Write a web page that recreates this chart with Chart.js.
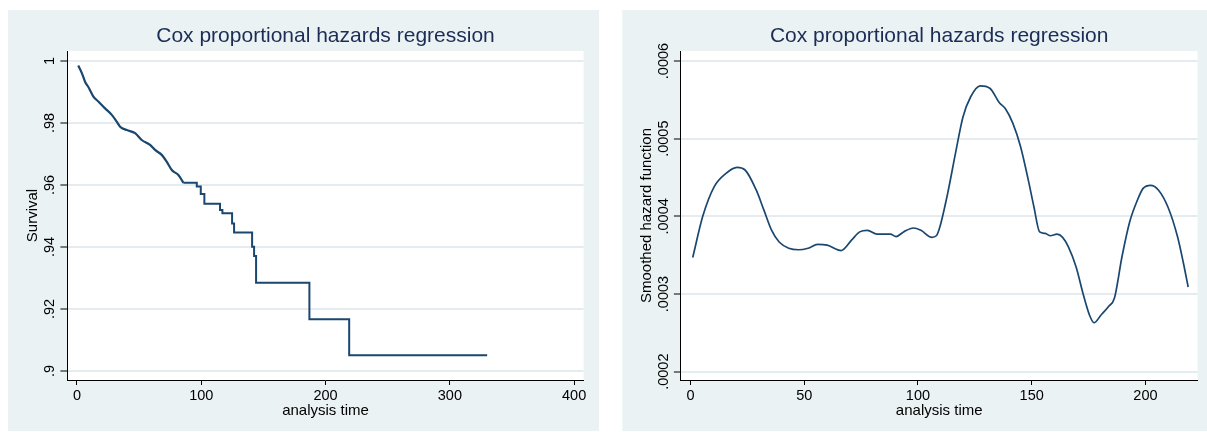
<!DOCTYPE html>
<html>
<head>
<meta charset="utf-8">
<title>Cox proportional hazards regression</title>
<script src="https://cdn.jsdelivr.net/npm/chart.js@4"></script>
<style>
  body { margin: 0; background: #fff; }
  #wrap { position: relative; width: 1207px; height: 432px; }
  canvas { position: absolute; top: 0; }
</style>
</head>
<body>
<div id="wrap">
  <canvas id="survChart" width="603" height="432" style="left:0"></canvas>
  <canvas id="hazChart" width="604" height="432" style="left:603px"></canvas>
</div>
<script>
// Left panel: survival curve
// early part has many tiny steps, drawn as a plain line; after that the steps are drawn
const survTime = [1, 4, 6.5, 9.7, 13.2, 17.2, 22.6, 28, 32, 34.7, 40.1, 46.8, 52.1, 58.8, 62.8,
  68.2, 72.2, 76.3, 81.6, 85.6, 96.4, 99.6, 102.5, 115.1, 117, 124.8, 126.4, 140.9, 142.5,
  144.1, 187, 219, 330];
const survival = [.9985, .9960, .9933, .9912, .9885, .9869, .9847, .9826, .9804, .9788, .9777,
  .9767, .9745, .9729, .9713, .9697, .9675, .9648, .9632, .9607, .9595, .9571, .9539, .9519,
  .9509, .9476, .9447, .9401, .9371, .9285, .9167, .9051, .9051];
const survDenseEnd = 19; // index of t = 85.6
const survXTicks = [0, 100, 200, 300, 400];
const survYTicks = [0.9, 0.92, 0.94, 0.96, 0.98, 1];
const survYLabels = [".9", ".92", ".94", ".96", ".98", "1"];

// Right panel: smoothed hazard function
const hazTime = [1, 5.4, 10.4, 15.5, 20.5, 23.9, 28.9, 32.3, 35.7, 39, 43.2, 47.5, 51.7, 55.9,
  60.1, 66.3, 71, 74.4, 77.8, 82, 87.9, 90.4, 93.7, 98, 101.3, 106.1, 108.1, 109.7, 113.1,
  116.5, 119.8, 123.2, 127.4, 131.6, 135.9, 138.4, 141.7, 145.1, 148.5, 151, 153.5, 156,
  158.2, 161.1, 163.6, 166.1, 169.5, 172.9, 175.4, 177.4, 180.5, 183.8, 186.4, 189.7, 193.1,
  196.5, 199, 202.3, 205.7, 209.9, 214.1, 216.7, 218.8];
const hazard = [.000347, .000400, .000438, .000455, .000463, .000460, .000434, .000408, .000382,
  .000367, .000359, .000357, .000359, .000364, .000363, .000356, .000370, .000380, .000382,
  .000377, .000377, .000374, .000380, .000385, .000382, .000373, .000375, .000387, .000430,
  .000481, .000528, .000554, .000568, .000565, .000546, .000539, .000520, .000490, .000447,
  .000412, .000380, .000378, .000375, .000377, .000373, .000361, .000335, .000297, .000273,
  .000263, .000273, .000284, .000295, .000348, .000393, .000421, .000436, .000440, .000434,
  .000412, .000374, .000340, .000309];
const hazXTicks = [0, 50, 100, 150, 200];
const hazYTicks = [0.0002, 0.0003, 0.0004, 0.0005, 0.0006];
const hazYLabels = [".0002", ".0003", ".0004", ".0005", ".0006"];

const NAVY = "#1a476f";
const PANEL = "#eaf2f3";
const GRID = "#e4ecef";
const TICK_FONT = 14.5;
Chart.defaults.font.family = '"Liberation Sans", Arial, Helvetica, sans-serif';
Chart.defaults.color = "#000";

// panel background + white plot region
const panelBg = {
  id: "panelBg",
  beforeDraw(chart, args, opts) {
    const ctx = chart.ctx, a = chart.chartArea;
    ctx.save();
    ctx.fillStyle = PANEL;
    ctx.fillRect(opts.left, 10, opts.right - opts.left, 421);
    ctx.fillStyle = "#fff";
    ctx.fillRect(a.left, a.top, a.right - a.left, a.bottom - a.top);
    ctx.restore();
  }
};

// Stata style vertical y tick labels
const rotatedYTicks = {
  id: "rotatedYTicks",
  afterDraw(chart, args, opts) {
    const y = chart.scales.y, ctx = chart.ctx;
    ctx.save();
    ctx.font = TICK_FONT + 'px "Liberation Sans", Arial, sans-serif';
    ctx.fillStyle = "#000";
    ctx.textAlign = "center";
    ctx.textBaseline = "middle";
    opts.values.forEach((v, i) => {
      ctx.save();
      ctx.translate(y.right - opts.gap, y.getPixelForValue(v));
      ctx.rotate(-Math.PI / 2);
      ctx.fillText(opts.labels[i], 0, 0);
      ctx.restore();
    });
    ctx.restore();
  }
};

function series(xs, ys, lw, stepped) {
  return {
    data: xs.map((x, i) => ({ x: x, y: ys[i] })),
    borderColor: NAVY,
    borderWidth: lw,
    pointRadius: 0,
    fill: false,
    stepped: stepped || false,
    cubicInterpolationMode: stepped ? "default" : "monotone"
  };
}

function makeChart(id, p) {
  return new Chart(document.getElementById(id), {
    type: "line",
    data: { datasets: p.datasets },
    options: {
      responsive: false,
      animation: false,
      devicePixelRatio: 1,
      events: [],
      layout: { padding: { left: 0, top: 0, right: p.padRight, bottom: 0 } },
      plugins: {
        legend: { display: false },
        tooltip: { enabled: false },
        title: {
          display: true,
          text: "Cox proportional hazards regression",
          color: "#1c2c54",
          fullSize: false,
          font: { size: 21, weight: "normal" },
          padding: { top: 24, bottom: 1.8 }
        },
        panelBg: { left: p.panelLeft, right: p.panelRight },
        rotatedYTicks: { values: p.yTicks, labels: p.yLabels, gap: 17 }
      },
      scales: {
        x: {
          type: "linear",
          min: p.xMin, max: p.xMax,
          afterBuildTicks: s => { s.ticks = p.xTicks.map(v => ({ value: v })); },
          afterFit: s => { s.height = 52; },
          ticks: { autoSkip: false, maxRotation: 0, padding: 2, font: { size: TICK_FONT },
                   callback: v => String(v) },
          grid: { drawOnChartArea: false, drawTicks: true, tickLength: 5, tickColor: "#000" },
          border: { display: true, color: "#000", width: 1 },
          title: { display: true, text: "analysis time", font: { size: 15 },
                   padding: { top: 0, bottom: 12 } }
        },
        y: {
          type: "linear",
          min: p.yMin, max: p.yMax,
          afterBuildTicks: s => { s.ticks = p.yTicks.map(v => ({ value: v })); },
          afterFit: s => { s.width = p.yWidth; },
          ticks: { display: false },
          grid: { color: GRID, lineWidth: 2, drawTicks: true, tickLength: 7,
                  tickColor: "#000", tickWidth: 1 },
          border: { display: true, color: "#000", width: 1 },
          title: { display: true, text: p.yTitle, font: { size: 15 },
                   padding: { top: p.yTitlePad, bottom: 0 } }
        }
      }
    },
    plugins: [panelBg, rotatedYTicks]
  });
}

makeChart("survChart", {
  datasets: [
    series(survTime.slice(0, survDenseEnd + 1), survival.slice(0, survDenseEnd + 1), 2.2, false),
    series(survTime.slice(survDenseEnd), survival.slice(survDenseEnd), 2, "before")
  ],
  xMin: -7.7, xMax: 407.6, xTicks: survXTicks,
  yMin: 0.8971, yMax: 1.0032, yTicks: survYTicks, yLabels: survYLabels,
  yTitle: "Survival", yTitlePad: 24.3, yWidth: 67.4, padRight: 19.4,
  panelLeft: 8, panelRight: 599
});

makeChart("hazChart", {
  datasets: [series(hazTime, hazard, 1.7, false)],
  xMin: -4.2, xMax: 222.9, xTicks: hazXTicks,
  yMin: 0.0001893, yMax: 0.0006129, yTicks: hazYTicks, yLabels: hazYLabels,
  yTitle: "Smoothed hazard function", yTitlePad: 35, yWidth: 77.9, padRight: 9.5,
  panelLeft: 19.3, panelRight: 604
});
</script>
</body>
</html>
